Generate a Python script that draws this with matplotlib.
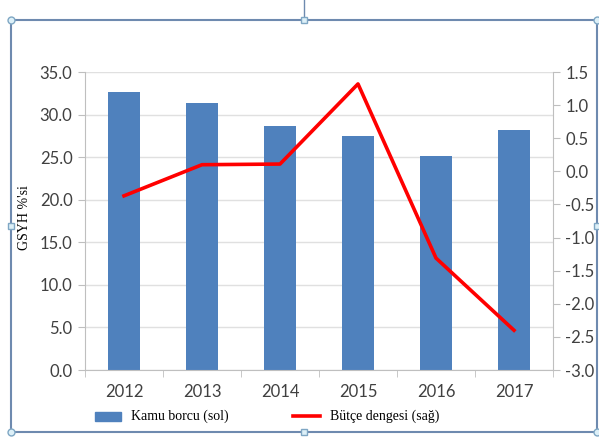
import matplotlib.pyplot as plt
from matplotlib.patches import Rectangle
import numpy as np

years = ["2012", "2013", "2014", "2015", "2016", "2017"]
kamu_borcu = [32.7, 31.4, 28.7, 27.5, 25.1, 28.2]
butce_dengesi = [-0.37, 0.10, 0.11, 1.32, -1.31, -2.40]

left_ticks = [0, 5, 10, 15, 20, 25, 30, 35]
right_ticks = [-3.0, -2.5, -2.0, -1.5, -1.0, -0.5, 0.0, 0.5, 1.0, 1.5]

bar_color = "#4F81BD"
line_color = "#FF0000"
axis_grey = "#BFBFBF"
tick_font = "Lato"
serif_font = "Liberation Serif"

fig = plt.figure(figsize=(5.99, 4.40), dpi=100)
ax = fig.add_axes([85 / 599, 1 - 370 / 440, 468 / 599, 298 / 440])

x = np.arange(len(years))
ax.bar(x, kamu_borcu, width=0.42, color=bar_color, zorder=2)
ax.set_xlim(-0.5, len(years) - 0.5)
ax.set_ylim(0, 35)
ax.set_yticks(left_ticks)
ax.set_yticklabels([f"{v:.1f}" for v in left_ticks], fontsize=12, color="#404040", family=tick_font)
ax.set_xticks(x)
ax.set_xticklabels(years, fontsize=12, color="#404040", family=tick_font)
ax.set_xticks(np.arange(len(years) + 1) - 0.5, minor=True)
ax.tick_params(axis="x", which="major", length=0, pad=10)
ax.tick_params(axis="x", which="minor", length=5, color=axis_grey, direction="out")
ax.tick_params(axis="y", length=5, color=axis_grey, direction="out", pad=4)
ax.grid(axis="y", color="#E0E0E0", linewidth=1, zorder=0)
for s in ["top", "right"]:
    ax.spines[s].set_visible(False)
for s in ["left", "bottom"]:
    ax.spines[s].set_color(axis_grey)
fig.text(25 / 599, 1 - 218 / 440, "GSYH %'si", family=serif_font, fontsize=10,
         rotation=90, ha="center", va="center")

ax2 = ax.twinx()
ax2.plot(x, butce_dengesi, color=line_color, linewidth=2.6, zorder=3)
ax2.set_ylim(-3.0, 1.5)
ax2.set_yticks(right_ticks)
ax2.set_yticklabels([f"{v:.1f}" for v in right_ticks], fontsize=12, color="#404040", family=tick_font)
ax2.tick_params(axis="y", length=5, color=axis_grey, direction="out", pad=4)
for s in ["top", "left", "bottom"]:
    ax2.spines[s].set_visible(False)
ax2.spines["right"].set_color(axis_grey)

# legend below the plot
fig.patches.append(Rectangle((95 / 599, 1 - 421 / 440), 26 / 599, 9 / 440,
                             transform=fig.transFigure, color=bar_color))
fig.text(131 / 599, 1 - 416 / 440, "Kamu borcu (sol)", family=serif_font, fontsize=10, va="center")
fig.add_artist(plt.Line2D([293 / 599, 320 / 599], [1 - 416 / 440] * 2,
                          transform=fig.transFigure, color=line_color, linewidth=2.6))
fig.text(330 / 599, 1 - 416 / 440, "Bütçe dengesi (sağ)", family=serif_font, fontsize=10, va="center")

# selection frame around the chart
frame_color = "#6E8AAF"
x0, x1 = 11 / 599, 597 / 599
y0, y1 = 1 - 432 / 440, 1 - 20 / 440
fig.add_artist(Rectangle((x0, y0), x1 - x0, y1 - y0, transform=fig.transFigure,
                         fill=False, edgecolor=frame_color, linewidth=1.5))
fig.add_artist(plt.Line2D([304 / 599] * 2, [y1, 1.0], transform=fig.transFigure,
                          color=frame_color, linewidth=1))
for hx, hy, m in [(x0, y0, "o"), (x1, y0, "o"), (x0, y1, "o"), (x1, y1, "o"),
                  (304 / 599, y0, "s"), (304 / 599, y1, "s"),
                  (x0, (y0 + y1) / 2, "s"), (x1, (y0 + y1) / 2, "s")]:
    fig.add_artist(plt.Line2D([hx], [hy], transform=fig.transFigure, marker=m,
                              markersize=5, markerfacecolor="#DDF0F8",
                              markeredgecolor="#7FA7C4", linestyle=""))

fig.savefig("out.png", dpi=100)
